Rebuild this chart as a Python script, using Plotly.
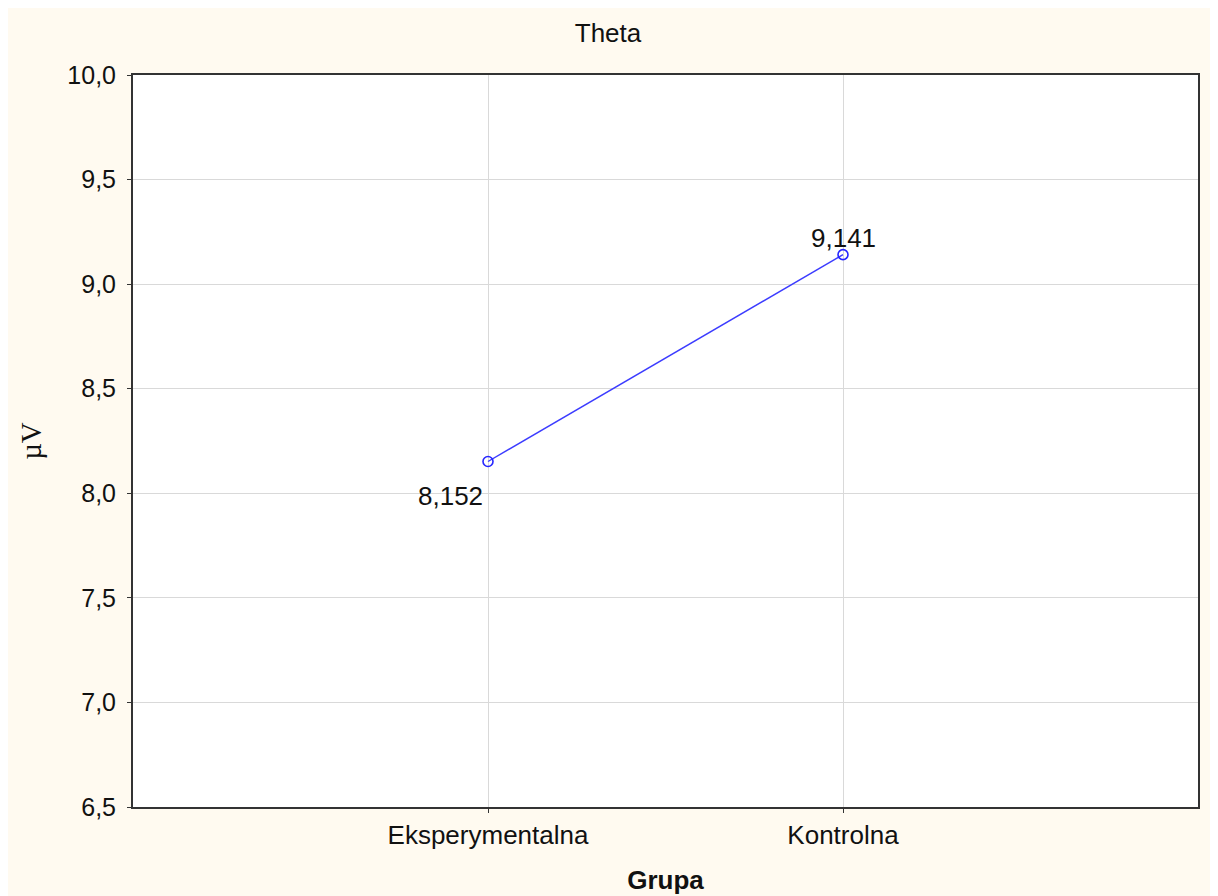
import plotly.graph_objects as go

categories = ["Eksperymentalna", "Kontrolna"]
values = [8.152, 9.141]
labels = ["8,152", "9,141"]
y_ticks = [6.5, 7.0, 7.5, 8.0, 8.5, 9.0, 9.5, 10.0]

font = "Liberation Sans, Arial, sans-serif"
W, H = 1209, 888
L, R, T, B = 125, 19, 67, 89
cream = "#fffaf0"
txt = "#111111"

fig = go.Figure()
fig.add_trace(go.Scatter(
    x=categories, y=values, mode="lines+markers",
    line=dict(color="#3c3cff", width=1.4),
    marker=dict(symbol="circle-open", size=10, color="#2626ff", line=dict(width=1.6)),
    showlegend=False, hoverinfo="skip",
))

fig.add_annotation(x=categories[0], y=values[0], text=labels[0], showarrow=False,
                   xanchor="right", yanchor="middle", xshift=-3, yshift=-34,
                   font=dict(family=font, size=26, color=txt))
fig.add_annotation(x=categories[1], y=values[1], text=labels[1], showarrow=False,
                   xanchor="center", yanchor="middle", xshift=0, yshift=17,
                   font=dict(family=font, size=26, color=txt))

fig.update_layout(
    width=W, height=H,
    margin=dict(l=L, r=R, t=T, b=B, autoexpand=False),
    paper_bgcolor=cream, plot_bgcolor="white",
    separators=", ",
    title=dict(text="Theta", x=600 / W, xanchor="center",
               y=1 - 25 / H, yanchor="middle",
               font=dict(family=font, size=26, color=txt)),
    font=dict(family=font, size=26, color=txt),
)
fig.update_xaxes(
    type="category", range=[-1, 2], automargin=False,
    showgrid=True, gridcolor="#d9d9d9", gridwidth=1,
    showline=True, linecolor="#333", linewidth=2, mirror=True,
    ticks="outside", ticklen=4, tickcolor="#333",
    tickfont=dict(family=font, size=26, color=txt),
    title=dict(text="<b>Grupa</b>", font=dict(family=font, size=26, color=txt), standoff=22),
)
fig.update_yaxes(
    range=[6.5, 10.0], tickvals=y_ticks, tickformat=".1f", automargin=False,
    showgrid=True, gridcolor="#d9d9d9", gridwidth=1,
    showline=True, linecolor="#333", linewidth=2, mirror=True,
    ticks="outside", ticklen=4, tickcolor="#333", ticklabelstandoff=6,
    tickfont=dict(family=font, size=25, color=txt),
    zeroline=False,
    title=dict(text="µV", font=dict(family="Liberation Serif, Times New Roman, serif", size=29, color=txt), standoff=17),
)

fig.write_html("out.html")
